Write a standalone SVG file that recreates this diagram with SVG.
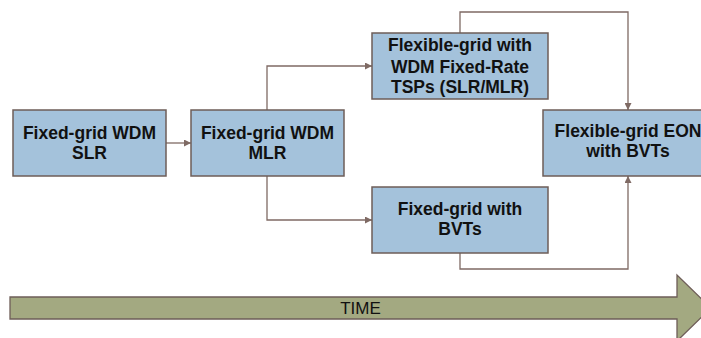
<svg xmlns="http://www.w3.org/2000/svg" width="701" height="338" viewBox="0 0 701 338">
<defs>
<style>
.box{fill:#A4C2DB;stroke:#6E5D58;stroke-width:1.5}
.lbl{font-family:"Liberation Sans",Arial,sans-serif;font-weight:bold;font-size:17.5px;fill:#111;text-anchor:middle}
.conn{fill:none;stroke:#7F6A64;stroke-width:1.3}
.time{fill:#A3A981;stroke:#6E5D58;stroke-width:1.3}
.tl{font-family:"Liberation Sans",Arial,sans-serif;font-size:17px;fill:#111;text-anchor:middle}
</style>
<marker id="ah" viewBox="0 0 10 10" refX="10" refY="5" markerWidth="7" markerHeight="7" markerUnits="userSpaceOnUse" orient="auto">
<path d="M0,0 L10,5 L0,10 z" fill="#7F6A64"/>
</marker>
</defs>
<g id="time-arrow">
<path class="time" d="M10,297 L677,297 L677,275 L711,308 L677,341 L677,319 L10,319 Z"/>
<text class="tl" x="360.5" y="314">TIME</text>
</g>
<g id="connectors">
<path class="conn" d="M166,143 L191,143" marker-end="url(#ah)"/>
<path class="conn" d="M267,110 L267,66 L372,66" marker-end="url(#ah)"/>
<path class="conn" d="M267,176 L267,220 L372,220" marker-end="url(#ah)"/>
<path class="conn" d="M460,33 L460,12 L628,12 L628,110" marker-end="url(#ah)"/>
<path class="conn" d="M460,253 L460,269 L628,269 L628,176" marker-end="url(#ah)"/>
</g>
<g id="n1">
<rect class="box" x="13" y="110" width="153" height="66"/>
<text class="lbl" x="89.5" y="139">Fixed-grid WDM</text>
<text class="lbl" x="89.5" y="159">SLR</text>
</g>
<g id="n2">
<rect class="box" x="191" y="110" width="153" height="66"/>
<text class="lbl" x="267.5" y="139">Fixed-grid WDM</text>
<text class="lbl" x="267.5" y="159">MLR</text>
</g>
<g id="n3">
<rect class="box" x="372" y="33" width="176" height="66"/>
<text class="lbl" x="460" y="51">Flexible-grid with</text>
<text class="lbl" x="460" y="72.5">WDM Fixed-Rate</text>
<text class="lbl" x="460" y="93">TSPs (SLR/MLR)</text>
</g>
<g id="n4">
<rect class="box" x="372" y="187" width="176" height="66"/>
<text class="lbl" x="460" y="215">Fixed-grid with</text>
<text class="lbl" x="460" y="235">BVTs</text>
</g>
<g id="n5">
<rect class="box" x="543" y="110" width="170" height="66"/>
<text class="lbl" x="628" y="137">Flexible-grid EON</text>
<text class="lbl" x="628" y="157">with BVTs</text>
</g>
</svg>
